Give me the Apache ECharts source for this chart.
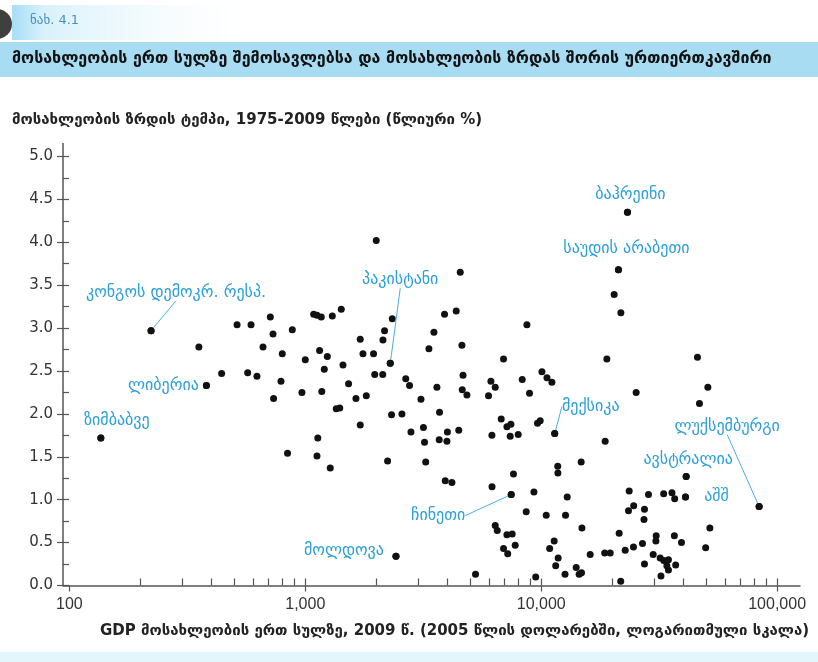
<!DOCTYPE html>
<html>
<head>
<meta charset="utf-8">
<script src="https://cdn.jsdelivr.net/npm/echarts/dist/echarts.min.js"></script>
<style>html,body{margin:0;padding:0;background:#fff;}</style>
</head>
<body>
<div id="main" style="width:818px;height:662px;"></div>
<script>
// GDP per capita 2009 (2005 $) and population growth 1975-2009 (% a year)
var gdp = [
    136, 222, 381, 354, 442, 514, 589, 570, 624, 662,
    711, 730, 799, 734, 789, 841, 881, 968, 1000, 1085,
    1121, 1169, 1302, 1421, 1150, 1240, 1204, 1445, 1175, 1526,
    1640, 1814, 1710, 1756, 1947, 1999, 2134, 2168, 2337, 2292,
    1970, 2130, 1353, 1400, 1710, 1130, 1121, 1276, 2233, 2423,
    2666, 2767, 2321, 2569, 2805, 3168, 3203, 3093, 3240, 3343,
    3510, 3893, 4363, 4538, 3614, 3707, 3696, 3985, 4004, 4472,
    4613, 4663, 4627, 4844, 3919, 4184, 5268, 6122, 6384, 5980,
    6182, 6188, 6769, 7156, 7440, 7389, 7990, 6923, 8309, 8921,
    8698, 7630, 7463, 9313, 8640, 6384, 6511, 7156, 7536, 7758,
    6923, 7213, 9478, 9645, 9903, 10070, 10580, 11100, 11410, 11750,
    11770, 10500, 11350, 10860, 11800, 11520, 12680, 12890, 14770, 14880,
    12620, 14070, 14820, 14480, 16130, 18580, 19610, 18980, 18670, 23210,
    21250, 20380, 21760, 25260, 21400, 21730, 22700, 23600, 24660, 23440,
    24610, 26870, 27400, 27270, 27400, 28490, 29830, 30720, 30620, 31930,
    33070, 34620, 34090, 34620, 37150, 32180, 33040, 35830, 36790, 40880,
    36680, 39320, 41160, 45950, 50860, 46860, 51860, 49780, 83890
];
var growth = [
    1.72, 2.97, 2.33, 2.78, 2.47, 3.04, 3.04, 2.48, 2.44, 2.78,
    3.13, 2.93, 2.70, 2.18, 2.38, 1.54, 2.98, 2.25, 2.63, 3.16,
    3.15, 3.13, 3.14, 3.22, 2.74, 2.67, 2.52, 2.57, 2.26, 2.35,
    2.18, 2.21, 2.87, 2.70, 2.70, 4.02, 2.86, 2.97, 3.11, 2.59,
    2.46, 2.46, 2.06, 2.07, 1.87, 1.72, 1.51, 1.37, 1.45, 0.34,
    2.41, 2.33, 1.99, 2.00, 1.79, 1.84, 1.67, 2.17, 1.44, 2.76,
    2.95, 3.16, 3.20, 3.65, 2.31, 2.02, 1.70, 1.68, 1.79, 1.81,
    2.80, 2.45, 2.28, 2.22, 1.22, 1.20, 0.13, 2.38, 2.31, 2.21,
    1.75, 1.15, 1.94, 1.85, 1.88, 1.74, 1.76, 2.64, 2.40, 2.24,
    3.04, 1.30, 1.06, 1.09, 0.86, 0.70, 0.64, 0.59, 0.60, 0.47,
    0.43, 0.37, 0.10, 1.89, 1.92, 2.49, 2.42, 2.37, 1.77, 1.39,
    1.31, 0.82, 0.52, 0.43, 0.32, 0.23, 0.82, 1.03, 1.44, 0.67,
    0.13, 0.21, 0.15, 0.13, 0.36, 0.38, 0.38, 2.64, 1.68, 4.35,
    3.68, 3.39, 3.18, 2.25, 0.61, 0.05, 0.41, 1.10, 0.93, 0.87,
    0.45, 0.49, 0.89, 0.77, 0.25, 1.06, 0.36, 0.58, 0.52, 0.32,
    0.29, 0.30, 0.23, 0.18, 0.24, 0.11, 1.07, 1.08, 1.01, 1.03,
    0.58, 0.50, 1.27, 2.66, 2.31, 2.12, 0.67, 0.44, 0.92
];

// named countries
var labelNames = ['ბაჰრეინი', 'საუდის არაბეთი', 'კონგოს დემოკრ. რესპ.', 'ლიბერია', 'ზიმბაბვე',
    'პაკისტანი', 'მექსიკა', 'ლუქსემბურგი', 'ავსტრალია', 'აშშ', 'ჩინეთი', 'მოლდოვა'];
var labelGdp = [23210, 21250, 222, 381, 136, 2292, 11410, 83890, 41160, 40880, 7463, 2423];
var labelGrowth = [4.35, 3.68, 2.97, 2.33, 1.72, 2.59, 1.77, 0.92, 1.27, 1.03, 1.06, 0.34];

// tick labels
var xMajor = [100, 1000, 10000, 100000];
var xMinor = [200, 300, 400, 500, 600, 700, 800, 900, 1000, 2000, 3000, 4000, 5000, 6000, 7000, 8000, 9000,
    10000, 20000, 30000, 40000, 50000, 60000, 70000, 80000, 90000, 100000];
var yMajor = [0, 0.5, 1, 1.5, 2, 2.5, 3, 3.5, 4, 4.5, 5];
var yMinor = [0, 0.25, 0.5, 0.75, 1, 1.25, 1.5, 1.75, 2, 2.25, 2.5, 2.75, 3, 3.25, 3.5, 3.75, 4, 4.25, 4.5, 4.75, 5];

// label offsets (px) from the point, and whether a leader line is drawn
var labelOffsets = [[3, -17], [8, -21], [25, -38], [-43, 0], [16, -17], [10, -83],
    [36, -27], [-32, -80], [2, -17], [31, 0], [-73, 21], [-52, -5]];
var labelHasLine = [false, false, true, false, false, true, true, true, false, false, true, false];

var axisColor = '#555';
var blue = '#2b9fd9';

var chart = echarts.init(document.getElementById('main'));

var option = {
    animation: false,
    grid: {left: 63, right: 18, top: 143.6, bottom: 76.5},
    xAxis: [
        {
            type: 'log', logBase: 10, min: 94, max: 125000,
            axisLine: {lineStyle: {color: axisColor, width: 1.5}},
            axisTick: {customValues: xMajor, length: 6, lineStyle: {color: axisColor, width: 1.2}},
            axisLabel: {
                customValues: xMajor, margin: 11, fontSize: 16, color: '#333',
                fontFamily: 'Liberation Sans, Arial, sans-serif',
                formatter: function (v) { return Math.round(v).toLocaleString('en-US'); }
            },
            splitLine: {show: false}
        },
        {
            type: 'log', logBase: 10, min: 94, max: 125000, position: 'bottom',
            axisLine: {show: false},
            axisTick: {customValues: xMinor, inside: true, length: 7, lineStyle: {color: axisColor, width: 1.2}},
            axisLabel: {show: false},
            splitLine: {show: false}
        }
    ],
    yAxis: [
        {
            type: 'value', min: 0, max: 5.15,
            axisLine: {show: true, lineStyle: {color: axisColor, width: 1.5}},
            axisTick: {show: true, customValues: yMajor, length: 6, lineStyle: {color: axisColor, width: 1.2}},
            axisLabel: {
                customValues: yMajor, margin: 10, fontSize: 15, color: '#333',
                fontFamily: 'DejaVu Sans, sans-serif',
                formatter: function (v) { return v.toFixed(1); }
            },
            splitLine: {show: false}
        },
        {
            type: 'value', min: 0, max: 5.15, position: 'left', offset: 0,
            axisLine: {show: false},
            axisTick: {show: true, customValues: yMinor, inside: true, length: 6, lineStyle: {color: axisColor, width: 1.2}},
            axisLabel: {show: false},
            splitLine: {show: false}
        }
    ],
    graphic: [
        {type: 'rect', left: 12, top: 5, shape: {width: 260, height: 35},
            style: {fill: new echarts.graphic.LinearGradient(0, 0, 1, 0, [
                {offset: 0, color: '#a6def5'}, {offset: 0.12, color: '#d8f1fb'}, {offset: 1, color: 'rgba(255,255,255,0)'}])}},
        {type: 'circle', shape: {cx: -3, cy: 24, r: 15}, style: {fill: '#3f3f3f'}},
        {type: 'text', left: 30, top: 14, style: {text: 'ნახ. 4.1', fill: '#4a90bd', font: '13px DejaVu Sans, sans-serif'}},
        {type: 'rect', left: 0, top: 42, shape: {width: 818, height: 35}, style: {fill: '#a8dcf3'}},
        {type: 'text', left: 12, top: 51, style: {
            text: 'მოსახლეობის ერთ სულზე შემოსავლებსა და მოსახლეობის ზრდას შორის ურთიერთკავშირი',
            fill: '#111', font: 'bold 16px DejaVu Sans, sans-serif'}},
        {type: 'text', left: 12, top: 113, style: {
            text: 'მოსახლეობის ზრდის ტემპი, 1975-2009 წლები (წლიური %)',
            fill: '#222', font: 'bold 15px DejaVu Sans, sans-serif'}},
        {type: 'text', left: 100, top: 624, style: {
            text: 'GDP მოსახლეობის ერთ სულზე, 2009 წ. (2005 წლის დოლარებში, ლოგარითმული სკალა)',
            fill: '#222', font: 'bold 15px DejaVu Sans, sans-serif'}},
        {type: 'rect', left: 0, top: 652, shape: {width: 818, height: 10}, style: {fill: '#e2f6fb'}}
    ],
    series: [
        {
            type: 'scatter',
            xAxisIndex: 0, yAxisIndex: 0,
            symbolSize: 7,
            itemStyle: {color: '#111', opacity: 1},
            data: gdp.map(function (g, i) { return [g, growth[i]]; }),
            z: 3
        },
        {
            type: 'scatter',
            xAxisIndex: 0, yAxisIndex: 0,
            symbolSize: 7,
            itemStyle: {color: '#111', opacity: 1},
            data: labelNames.map(function (n, i) {
                return {name: n, value: [labelGdp[i], labelGrowth[i]], labelLine: {show: labelHasLine[i]}};
            }),
            label: {
                show: true, position: 'inside', formatter: '{b}',
                color: blue, fontSize: 16, fontFamily: 'DejaVu Sans, sans-serif'
            },
            labelLine: {show: true, lineStyle: {color: '#4aaee0', width: 1}},
            labelLayout: function (p) {
                var o = labelOffsets[p.dataIndex];
                return {dx: o[0], dy: o[1]};
            },
            z: 4
        }
    ]
};
chart.setOption(option);
</script>
</body>
</html>
